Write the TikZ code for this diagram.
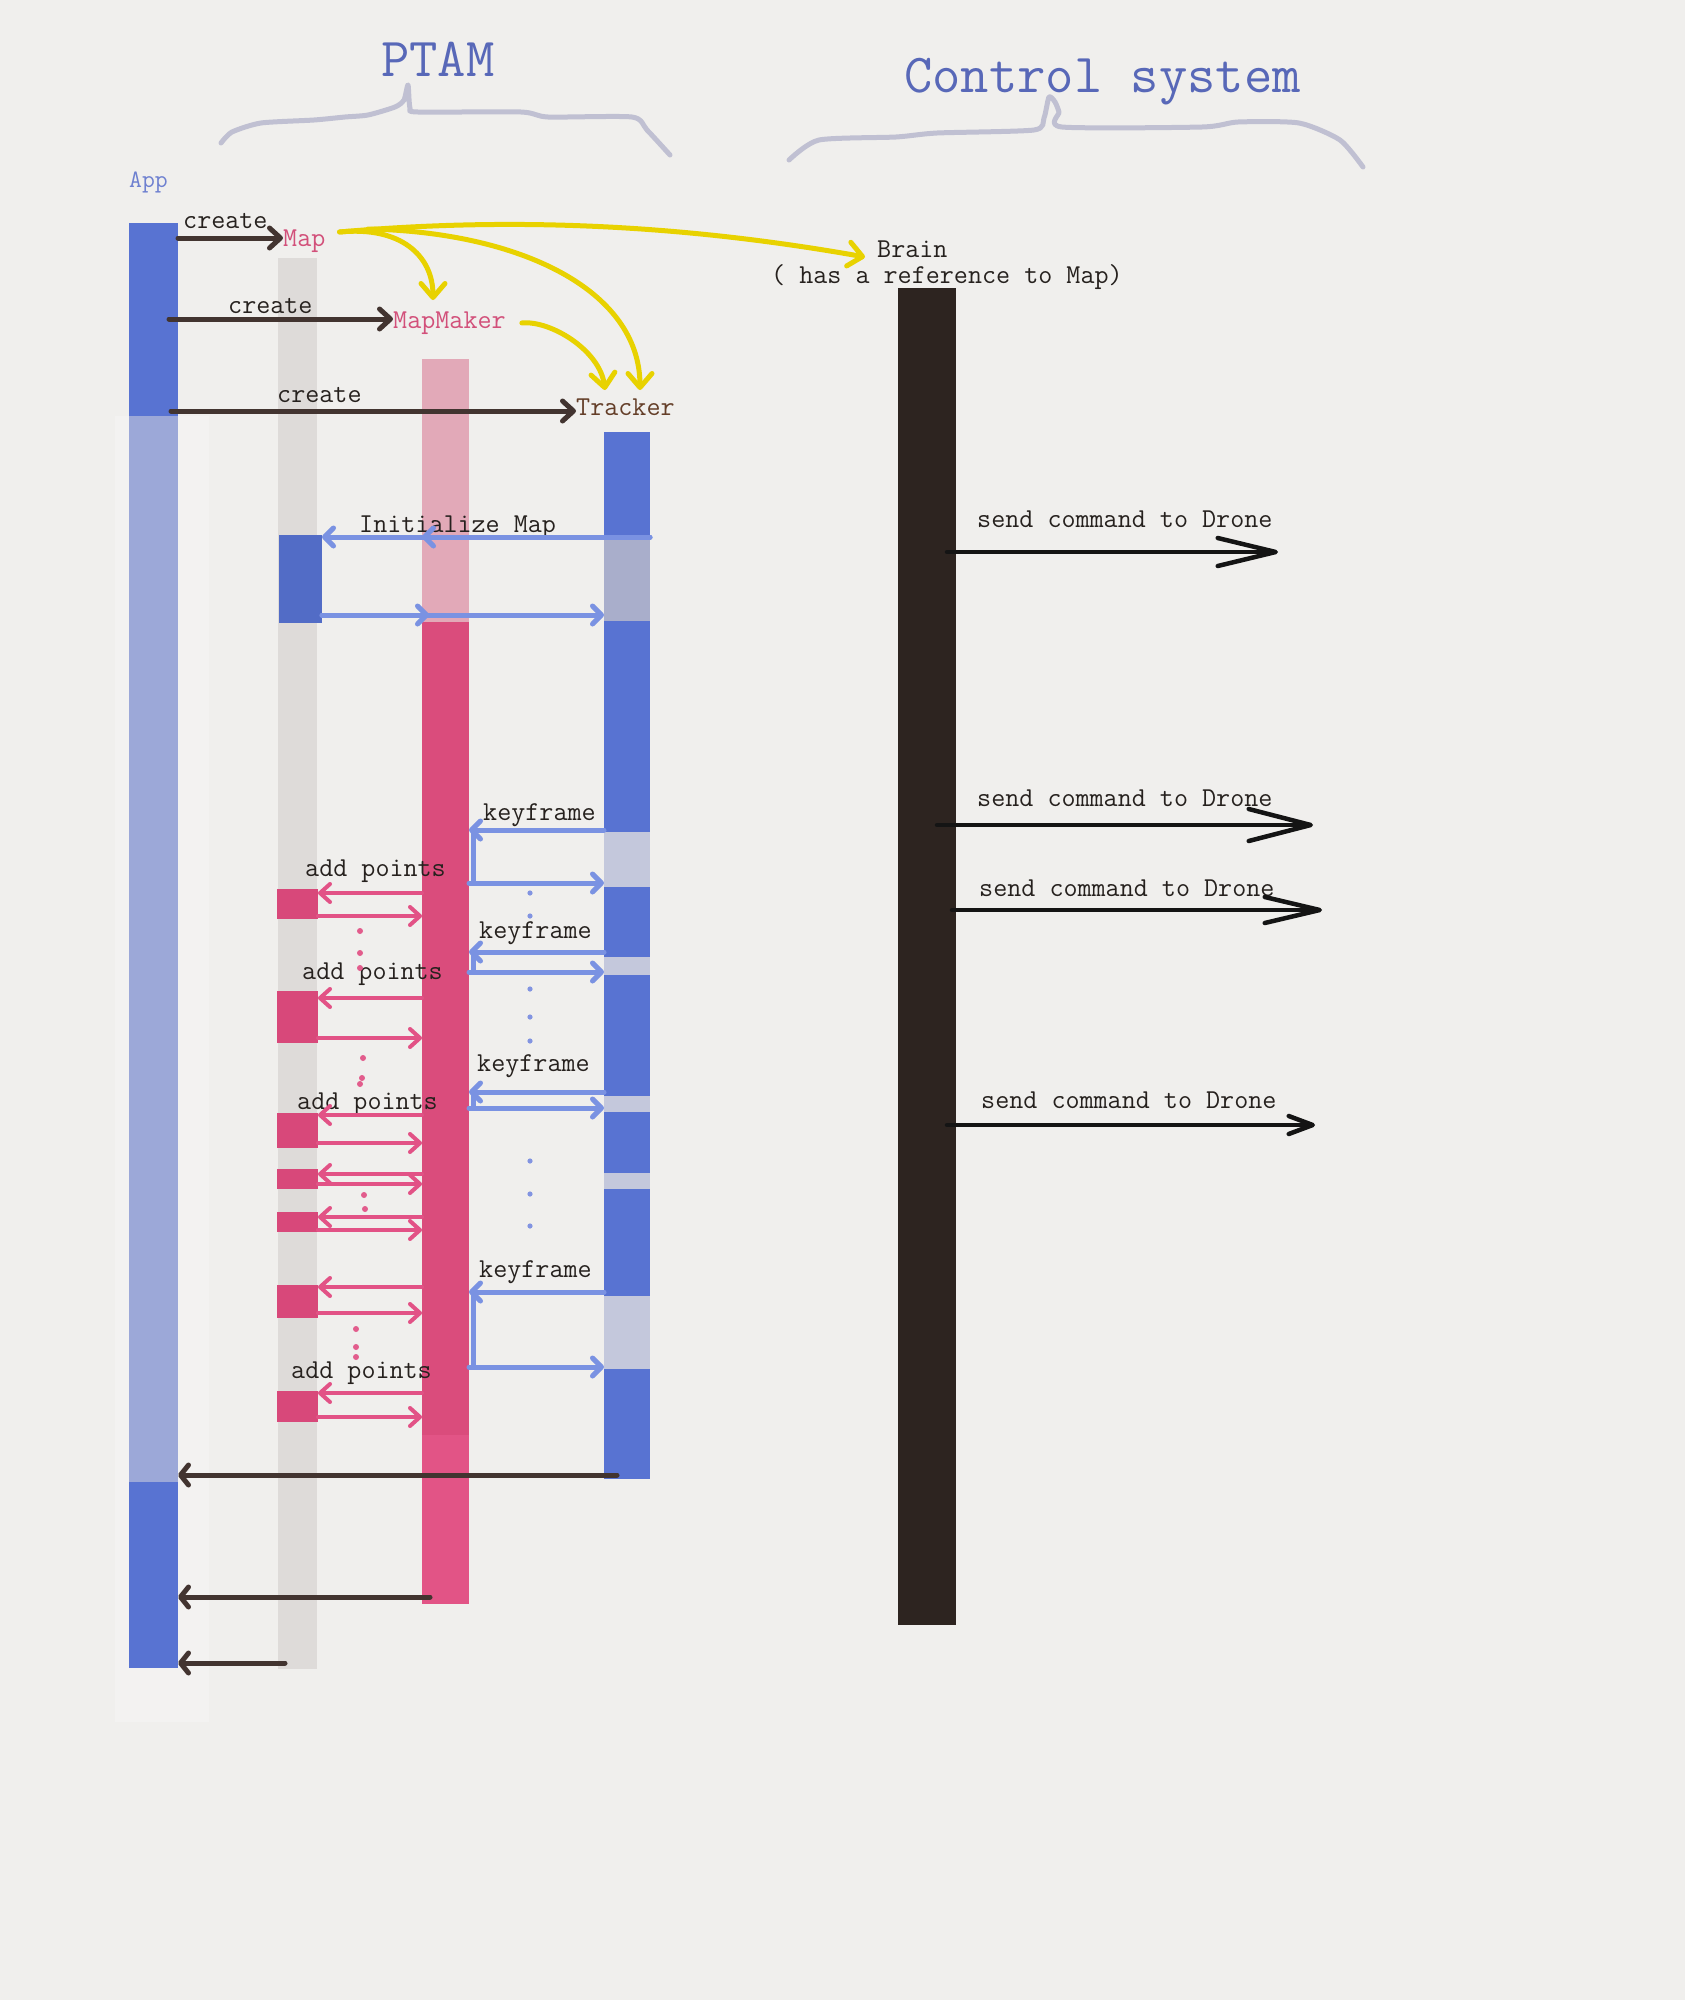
\documentclass[tikz,border=0pt]{standalone}
\usepackage{fontspec}
\usetikzlibrary{arrows.meta,fit,calc}
\definecolor{bgc}{RGB}{240,239,237}
\definecolor{faint}{RGB}{243,242,241}
\definecolor{appdark}{RGB}{88,115,210}
\definecolor{applight}{RGB}{156,168,216}
\definecolor{mapgray}{RGB}{222,219,217}
\definecolor{mapblue}{RGB}{82,108,198}
\definecolor{mappink}{RGB}{216,72,122}
\definecolor{mmlight}{RGB}{226,169,184}
\definecolor{mmdark}{RGB}{218,76,124}
\definecolor{mmmid}{RGB}{226,84,134}
\definecolor{trkdark}{RGB}{88,115,210}
\definecolor{trklav}{RGB}{196,200,220}
\definecolor{trklavb}{RGB}{169,174,203}
\definecolor{brainc}{RGB}{45,36,32}
\definecolor{ttlblue}{RGB}{88,104,184}
\definecolor{appblue}{RGB}{110,128,208}
\definecolor{pinktxt}{RGB}{210,80,122}
\definecolor{trktxt}{RGB}{100,62,40}
\definecolor{txt}{RGB}{38,33,30}
\definecolor{brownc}{RGB}{66,52,48}
\definecolor{yel}{RGB}{232,210,0}
\definecolor{bluearr}{RGB}{122,146,226}
\definecolor{pinkarr}{RGB}{226,82,134}
\definecolor{bracec}{RGB}{192,192,210}
\definecolor{bdot}{RGB}{130,148,225}
\definecolor{pdot}{RGB}{226,92,140}
\newcommand\seg[6]{\node[segbox,fill=#6,fit={(#2,#3)(#4,#5)}] (#1) {};}
\newcommand\kfloop[2]{%
  \draw[barr] (trk.west |- 0,#1) -- (mm.east |- 0,#1);
  \draw[bline] (473,#1) -- (473,#2);
  \draw[barr] (mm.east |- 0,#2) -- (trk.west |- 0,#2);}
\newcommand\pbox[5]{%
  \seg{#1}{277}{#2}{318}{#3}{mappink}
  \draw[parr] (mm.west |- 0,#4) -- (#1.east |- 0,#4);
  \draw[parr] (#1.east |- 0,#5) -- (mm.west |- 0,#5);}
\begin{document}
\begin{tikzpicture}[x=1pt,y=-1pt,
  segbox/.style={inner sep=0pt,outer sep=0pt,draw=none},
  lbl/.style={font=\ttfamily\fontsize{27.3}{30}\selectfont,text=txt,inner sep=0pt,anchor=base west},
  ttl/.style={font=\ttfamily\fontsize{55}{60}\selectfont,text=ttlblue,inner sep=0pt,anchor=base west},
  brownarr/.style={draw=brownc,line width=5pt,line cap=round,-{Straight Barb[length=11pt,width=20pt,round]}},
  rarr/.style={draw=brownc,line width=5pt,line cap=round,-{Straight Barb[length=8pt,width=20pt,round]}},
  barr/.style={draw=bluearr,line width=5pt,line cap=round,-{Straight Barb[length=9pt,width=18pt,round]}},
  bline/.style={draw=bluearr,line width=5pt,line cap=round},
  parr/.style={draw=pinkarr,line width=4pt,line cap=round,-{Straight Barb[length=10pt,width=18pt,round]}},
  yarr/.style={draw=yel,line width=5pt,line cap=round,-{Straight Barb[length=14pt,width=24pt,round]}},
  darr/.style={draw=black!92,line width=4.5pt,line cap=round},
  brace/.style={draw=bracec,line width=5pt,line cap=round,line join=round},
  bdt/.style={fill=bdot,draw=none},
  pdt/.style={fill=pdot,draw=none}]
\useasboundingbox (0,0) rectangle (1685,2000);
\fill[bgc] (0,0) rectangle (1685,2000);
\fill[faint] (115,416) rectangle (209,1722);

% lifelines
\seg{app}{129}{223}{178}{1668}{applight}
\seg{appA}{129}{223}{178}{416}{appdark}
\seg{appB}{129}{1482}{178}{1668}{appdark}
\seg{map}{278}{258}{317}{1669}{mapgray}
\seg{mapbx}{279}{535}{322}{623}{mapblue}
\seg{mm}{422}{359}{469}{1604}{mmdark}
\seg{mmA}{422}{359}{469}{622}{mmlight}
\seg{mmC}{422}{1435}{469}{1604}{mmmid}
\seg{trk}{604}{432}{650}{1479}{trkdark}
\seg{trkLa}{604}{537}{650}{621}{trklavb}
\seg{trkLb}{604}{832}{650}{887}{trklav}
\seg{trkLc}{604}{957}{650}{975}{trklav}
\seg{trkLd}{604}{1096}{650}{1112}{trklav}
\seg{trkLe}{604}{1173}{650}{1189}{trklav}
\seg{trkLf}{604}{1296}{650}{1369}{trklav}
\seg{brn}{898}{288}{956}{1625}{brainc}

% braces
\draw[brace] plot[smooth,tension=0.4] coordinates {(221,143) (232,132) (261,123) (314,120) (345,117) (368,115) (395,107) (404,100) (408,85) (410,108) (418,112) (521,112) (548,117) (632,117) (647,130) (670,155)};
\draw[brace] plot[smooth,tension=0.4] coordinates {(789,160) (819,140) (896,137) (937,133) (1034,130) (1044,118) (1049,97) (1055,102) (1059,112) (1062,127) (1202,127) (1238,122) (1299,123) (1340,140) (1363,167)};

% texts
\node[ttl] (ptam) at (381,76) {PTAM};
\node[ttl] (ctrl) at (904,92) {Control system};
\node[lbl,text=appblue,font=\ttfamily\fontsize{25}{28}\selectfont] (appt) at (129,187) {App};
\node[lbl] (c1) at (183,228) {create};
\node[lbl,text=pinktxt] (mapt) at (283,246) {Map};
\node[lbl] (c2) at (228,313) {create};
\node[lbl,text=pinktxt] (mmt) at (393,328) {MapMaker};
\node[lbl] (c3) at (277,402) {create};
\node[lbl,text=trktxt] (trkt) at (576,415) {Tracker};
\node[lbl] (brt) at (877,257) {Brain};
\node[lbl] (reft) at (771,283) {( has a reference to Map)};
\node[lbl] (init) at (359,532) {Initialize Map};
\node[lbl] (k1) at (483,820) {keyframe};
\node[lbl] (k2) at (479,938) {keyframe};
\node[lbl] (k3) at (477,1071) {keyframe};
\node[lbl] (k4) at (479,1277) {keyframe};
\node[lbl] (p1) at (305,876) {add points};
\node[lbl] (p2) at (302,979) {add points};
\node[lbl] (p3) at (297,1109) {add points};
\node[lbl] (p4) at (291,1378) {add points};
\node[lbl] (s1) at (977,527) {send command to Drone};
\node[lbl] (s2) at (977,806) {send command to Drone};
\node[lbl] (s3) at (979,896) {send command to Drone};
\node[lbl] (s4) at (981,1108) {send command to Drone};

% create arrows
\draw[brownarr] (appA.east |- 0,238) -- (mapt.west |- 0,238);
\draw[brownarr] ($(appA.east |- 0,319)+(-9,0)$) -- (mmt.west |- 0,319);
\draw[brownarr] ($(appA.east |- 0,411)+(-7,0)$) -- (trkt.west |- 0,411);

% initialize map
\draw[barr] (trk.east |- 0,537) -- (mm.west |- 0,537);
\draw[barr] (trk.east |- 0,537) -- (mapbx.east |- 0,537);
\draw[barr] (mapbx.east |- 0,615) -- ($(mm.west |- 0,615)+(7,0)$);
\draw[barr] (mapbx.east |- 0,615) -- (trk.west |- 0,615);

% keyframe loops
\kfloop{830}{883}
\kfloop{952}{972}
\kfloop{1092}{1108}
\kfloop{1292}{1367}

% add points boxes
\pbox{pa}{889}{919}{893}{916}
\pbox{pb}{991}{1043}{998}{1038}
\pbox{pc}{1113}{1148}{1115}{1143}
\pbox{pd}{1169}{1189}{1174}{1184}
\pbox{pe}{1212}{1232}{1217}{1230}
\pbox{pf}{1285}{1318}{1287}{1313}
\pbox{pg}{1391}{1422}{1393}{1417}

% dots
\foreach \yy in {893,916,989,1017,1041,1161,1194,1226} {\fill[bdt] (530,\yy) circle (2.6);}
\foreach \xx/\yy in {360/931,360/953,360/968,363/1058,362/1078,360/1084,364/1195,365/1209,356/1329,356/1347,356/1357} {\fill[pdt] (\xx,\yy) circle (3);}

% returns to App
\draw[rarr] ($(trk.west |- 0,1475)+(13,0)$) -- (app.east |- 0,1475);
\draw[rarr] ($(mm.west |- 0,1597)+(8,0)$) -- (app.east |- 0,1597);
\draw[rarr] ($(map.west |- 0,1663)+(7,0)$) -- (app.east |- 0,1663);

% drone commands
\coordinate (d1) at (1278,552);
\coordinate (d2) at (1313,825);
\coordinate (d3) at (1322,910);
\coordinate (d4) at (1315,1125);
\draw[darr,-{Straight Barb[length=58pt,width=28pt,round]}] ($(brn.east |- 0,552)+(-9,0)$) -- (d1);
\draw[darr,-{Straight Barb[length=62pt,width=32pt,round]}] ($(brn.east |- 0,825)+(-19,0)$) -- (d2);
\draw[darr,-{Straight Barb[length=55pt,width=26pt,round]}] ($(brn.east |- 0,910)+(-4,0)$) -- (d3);
\draw[darr,-{Straight Barb[length=24pt,width=18pt,round]}] ($(brn.east |- 0,1125)+(-9,0)$) -- (d4);

% yellow references
\coordinate (yb) at ($(brt.west |- 0,257)+(-12,0)$);
\coordinate (ym) at (433,300);
\coordinate (yt1) at (640,390);
\coordinate (yt2) at (605,390);
\coordinate (ysplit) at (368,229);
\draw[yarr] ($(mapt.east |- 0,232)+(14,0)$) .. controls (520,216) and (690,226) .. (yb);
\draw[yarr] ($(mapt.east |- 0,232)+(14,0)$) .. controls (400,226) and (433,255) .. (ym);
\draw[yarr] (ysplit) .. controls (520,232) and (640,290) .. (yt1);
\draw[yarr] ($(mmt.east |- 0,323)+(16,0)$) .. controls (550,320) and (600,350) .. (yt2);
\end{tikzpicture}
\end{document}
